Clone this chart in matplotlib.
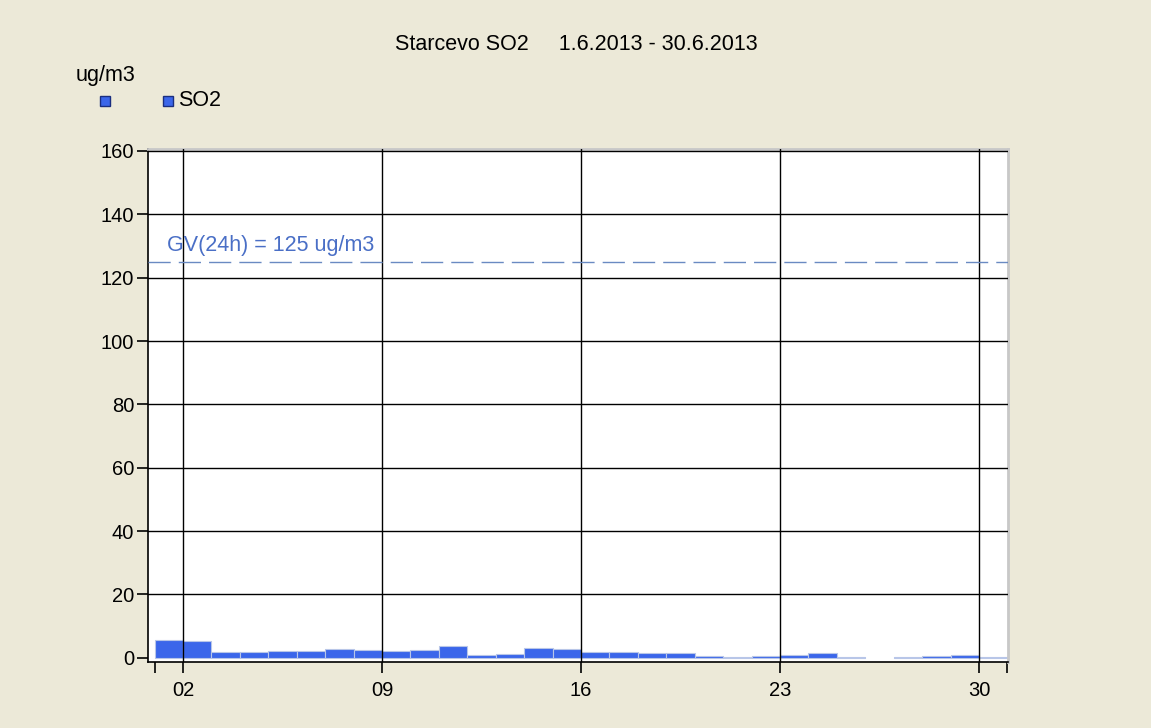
import matplotlib
matplotlib.use('Agg')
import matplotlib.pyplot as plt
from matplotlib.patches import Rectangle
import numpy as np

plt.rcParams['font.family'] = ['Liberation Sans', 'DejaVu Sans']

# daily SO2 averages, June 2013 (day 26 missing)
days = list(range(1, 31))
so2 = [5.7, 5.3, 1.7, 1.7, 2.1, 2.1, 2.8, 2.5, 2.1, 2.5,
       3.8, 0.9, 1.2, 3.2, 2.8, 1.9, 1.9, 1.5, 1.5, 0.6,
       0.3, 0.6, 1.0, 1.5, 0.3, np.nan, 0.3, 0.6, 1.0, 0.3]
tick_days = [2, 9, 16, 23, 30]
tick_labels = ['02', '09', '16', '23', '30']
y_ticks = [0, 20, 40, 60, 80, 100, 120, 140, 160]
limit_value = 125

bg = '#ECE9D8'
bar_color = '#3B66EA'

fig = plt.figure(figsize=(11.51, 7.28), dpi=100, facecolor=bg)
ax = fig.add_axes([0.1286, 0.0907, 0.8758 - 0.1286, 0.7953 - 0.0907])
ax.set_facecolor('white')

ax.set_xlim(0.77, 31.02)
ax.set_ylim(-1.3, 160.6)

# grid (drawn over the bars like the original)
for d in tick_days:
    ax.axvline(d, color='black', lw=1.0, zorder=3)
for v in y_ticks[1:]:
    ax.axhline(v, color='black', lw=1.0, zorder=3)

heights = np.array(so2, dtype=float)
ok = ~np.isnan(heights)
ax.bar(np.array(days)[ok], heights[ok], width=1.0, align='edge',
       bottom=0, color=bar_color, edgecolor='#B8C6E8', linewidth=0.8, zorder=2)

ax.axhline(limit_value, color='#6A8AC2', lw=1.0, dashes=(16, 5.8), zorder=4)
ax.text(1.45, limit_value + 1.8, 'GV(24h) = 125 ug/m3', color='#4A6FC6',
        fontsize=15.5, ha='left', va='bottom', zorder=5)

ax.set_xticks(tick_days)
ax.set_xticklabels(tick_labels)
ax.set_xticks([1, 31], minor=True)
ax.set_yticks(y_ticks)
ax.tick_params(axis='both', which='both', direction='out', length=8,
               width=1.2, color='black', labelsize=14.5, colors='black')
ax.tick_params(axis='x', pad=6)
ax.tick_params(axis='y', pad=2)

for s in ['left', 'bottom']:
    ax.spines[s].set_color('black')
    ax.spines[s].set_linewidth(1.2)
for s in ['top', 'right']:
    ax.spines[s].set_color('#C8C8C8')
    ax.spines[s].set_linewidth(2)

fig.text(576 / 1151, 1 - 45 / 728, 'Starcevo SO2     1.6.2013 - 30.6.2013',
         fontsize=15.5, ha='center', va='center')
fig.text(76 / 1151, 1 - 75 / 728, 'ug/m3', fontsize=15.5, ha='left', va='center')

# legend squares
for x0 in [100, 163]:
    fig.add_artist(Rectangle((x0 / 1151, 1 - 106 / 728), 10 / 1151, 10 / 728,
                             transform=fig.transFigure, facecolor=bar_color,
                             edgecolor='#1A2E80', linewidth=1.0))
fig.text(178 / 1151, 1 - 101 / 728, 'SO2', fontsize=15.5, ha='left', va='center')

fig.savefig('out.png', dpi=100, facecolor=bg)
